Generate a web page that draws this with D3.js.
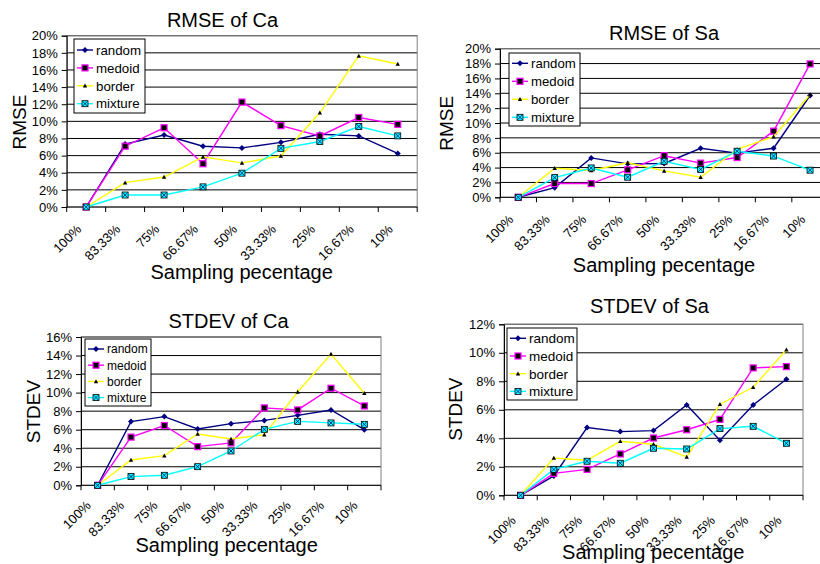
<!DOCTYPE html>
<html>
<head>
<meta charset="utf-8">
<script src="https://cdn.jsdelivr.net/npm/d3@7/dist/d3.min.js"></script>
<style>
  body { margin: 0; background: #fff; }
  svg { display: block; font-family: "Liberation Sans", Arial, sans-serif; }
</style>
</head>
<body>
<svg id="chart" width="820" height="564"></svg>
<script>
// categories on the x axis
var categories = ['100%', '83.33%', '75%', '66.67%', '50%', '33.33%', '25%', '16.67%', '10%'];
var seriesNames = ['random', 'medoid', 'border', 'mixture'];

// RMSE of Ca (%)
var rmseCaRandom  = [0, 7.35, 8.4, 7.1, 6.9, 7.55, 8.5, 8.3, 6.25];
var rmseCaMedoid  = [0, 7.1, 9.25, 5.05, 12.25, 9.5, 8.3, 10.45, 9.65];
var rmseCaBorder  = [0, 2.85, 3.5, 5.85, 5.15, 5.95, 11.0, 17.65, 16.7];
var rmseCaMixture = [0, 1.4, 1.4, 2.35, 3.95, 6.85, 7.65, 9.4, 8.3];

// RMSE of Sa (%)
var rmseSaRandom  = [0, 1.3, 5.3, 4.5, 4.55, 6.6, 5.95, 6.6, 13.7];
var rmseSaMedoid  = [0, 1.85, 1.85, 3.7, 5.6, 4.6, 5.35, 8.9, 17.95];
var rmseSaBorder  = [0, 3.9, 3.6, 4.65, 3.55, 2.7, 6.45, 8.15, 13.8];
var rmseSaMixture = [0, 2.65, 3.95, 2.7, 4.85, 3.75, 6.2, 5.55, 3.65];

// STDEV of Ca (%)
var stdCaRandom  = [0, 6.87, 7.41, 6.08, 6.65, 7.0, 7.55, 8.13, 6.0];
var stdCaMedoid  = [0, 5.2, 6.45, 4.17, 4.57, 8.35, 8.13, 10.47, 8.56];
var stdCaBorder  = [0, 2.73, 3.2, 5.54, 5.0, 5.47, 10.07, 14.17, 9.93];
var stdCaMixture = [0, 0.94, 1.08, 2.01, 3.7, 6.04, 6.9, 6.73, 6.58];

// STDEV of Sa (%)
var stdSaRandom  = [0, 1.36, 4.75, 4.47, 4.54, 6.34, 3.86, 6.34, 8.14];
var stdSaMedoid  = [0, 1.54, 1.82, 2.9, 4.02, 4.6, 5.33, 8.94, 9.03];
var stdSaBorder  = [0, 2.62, 2.46, 3.79, 3.58, 2.69, 6.39, 7.58, 10.22];
var stdSaMixture = [0, 1.82, 2.39, 2.25, 3.3, 3.25, 4.68, 4.84, 3.65];

var colors = { random: '#000080', medoid: '#ff00ff', border: '#ffff00', mixture: '#00ffff' };

var svg = d3.select('#chart');

// draws one marker shape at (0,0) into a group
function drawMarker(g, name) {
    if (name === 'random') {
        g.append('path').attr('d', 'M0,-3L3,0L0,3L-3,0Z').attr('fill', '#000080');
    } else if (name === 'medoid') {
        g.append('rect').attr('x', -3).attr('y', -3).attr('width', 6).attr('height', 6)
            .attr('fill', '#000').attr('stroke', '#ff00ff').attr('stroke-width', 1.2);
    } else if (name === 'border') {
        g.append('path').attr('d', 'M0,-2.2L2.2,1.8L-2.2,1.8Z').attr('fill', '#000');
    } else {
        g.append('rect').attr('x', -3).attr('y', -3).attr('width', 6).attr('height', 6)
            .attr('fill', '#00ffff').attr('stroke', '#000').attr('stroke-width', 0.8);
        g.append('path').attr('d', 'M-2.5,-2.5L2.5,2.5M2.5,-2.5L-2.5,2.5')
            .attr('stroke', '#000080').attr('stroke-width', 0.8);
    }
}

function drawChart(c) {
    var x = d3.scaleBand().domain(categories).range([c.left, c.right]);
    var y = d3.scaleLinear().domain([0, c.yMax]).range([c.bottom, c.top]);
    var g = svg.append('g');

    // gridlines
    var ticks = d3.range(0, c.yMax + 0.001, 2);
    g.selectAll('.grid').data(ticks.slice(1)).enter().append('line')
        .attr('x1', c.left).attr('x2', c.right)
        .attr('y1', function(d) { return y(d); }).attr('y2', function(d) { return y(d); })
        .attr('stroke', '#000').attr('stroke-width', 1);

    // plot border
    g.append('rect').attr('x', c.left).attr('y', y(c.yMax))
        .attr('width', c.right - c.left).attr('height', c.bottom - y(c.yMax))
        .attr('fill', 'none').attr('stroke', '#808080').attr('stroke-width', 1);

    // y axis
    var yAxis = d3.axisLeft(y).tickValues(ticks).tickSize(5).tickPadding(4)
        .tickFormat(function(d) { return d + '%'; });
    var ya = g.append('g').attr('transform', 'translate(' + c.left + ',0)').call(yAxis);
    ya.selectAll('text').attr('font-size', c.tickFont).attr('fill', '#000')
        .style('font-family', '"Liberation Sans", Arial, sans-serif');
    ya.selectAll('line, path').attr('stroke', '#000');

    // x axis: tick marks on category boundaries
    g.append('line').attr('x1', c.left).attr('x2', c.right)
        .attr('y1', c.bottom).attr('y2', c.bottom).attr('stroke', '#000');
    var bounds = categories.map(function(d) { return x(d); }).concat([c.right]);
    g.selectAll('.xt').data(bounds).enter().append('line')
        .attr('x1', function(d) { return d; }).attr('x2', function(d) { return d; })
        .attr('y1', c.bottom).attr('y2', c.bottom + 5).attr('stroke', '#000');
    g.selectAll('.xl').data(categories).enter().append('text')
        .attr('transform', function(d) {
            return 'translate(' + (x(d) + x.bandwidth() / 2 + c.labelDx) + ',' + (c.bottom + c.labelDy) + ') rotate(-45)';
        })
        .attr('text-anchor', 'end').attr('font-size', c.tickFont)
        .text(function(d) { return d; });

    // series lines and markers
    c.series.forEach(function(vals, i) {
        var name = seriesNames[i];
        var line = d3.line()
            .x(function(d, j) { return x(categories[j]) + x.bandwidth() / 2; })
            .y(function(d) { return y(d); });
        g.append('path').datum(vals).attr('d', line)
            .attr('fill', 'none').attr('stroke', colors[name]).attr('stroke-width', 1.4);
        vals.forEach(function(v, j) {
            var m = g.append('g').attr('transform',
                'translate(' + (x(categories[j]) + x.bandwidth() / 2) + ',' + y(v) + ')');
            drawMarker(m, name);
        });
    });

    // titles
    g.append('text').attr('x', c.titleX).attr('y', c.titleY).attr('text-anchor', 'middle')
        .attr('font-size', 20).text(c.title);
    g.append('text').attr('x', c.xTitleX).attr('y', c.xTitleY).attr('text-anchor', 'middle')
        .attr('font-size', 20).text('Sampling pecentage');
    g.append('text').attr('transform', 'translate(' + c.yTitleX + ',' + c.yTitleY + ') rotate(-90)')
        .attr('text-anchor', 'middle').attr('font-size', 19).text(c.yTitle);

    // legend
    var lg = g.append('g').attr('transform', 'translate(' + c.legX + ',' + c.legY + ')');
    lg.append('rect').attr('width', c.legW).attr('height', c.legH)
        .attr('fill', '#fff').attr('stroke', '#000').attr('stroke-width', 1);
    seriesNames.forEach(function(name, i) {
        var yy = c.legFirst + i * c.legStep;
        lg.append('line').attr('x1', 3).attr('x2', 19).attr('y1', yy).attr('y2', yy)
            .attr('stroke', colors[name]).attr('stroke-width', 1.4);
        drawMarker(lg.append('g').attr('transform', 'translate(11,' + yy + ')'), name);
        lg.append('text').attr('x', 22).attr('y', yy + c.legFont * 0.36)
            .attr('font-size', c.legFont).text(name);
    });
}

drawChart({
    title: 'RMSE of Ca', yTitle: 'RMSE', yMax: 20,
    series: [rmseCaRandom, rmseCaMedoid, rmseCaBorder, rmseCaMixture],
    left: 66.7, right: 417.2, top: 35.7, bottom: 207, tickFont: 13, labelDx: -4, labelDy: 23,
    titleX: 222.5, titleY: 27.3, xTitleX: 241.7, xTitleY: 279, yTitleX: 26, yTitleY: 122,
    legX: 74, legY: 39, legW: 71, legH: 74, legFirst: 11, legStep: 17.9, legFont: 13.3
});
drawChart({
    title: 'RMSE of Sa', yTitle: 'RMSE', yMax: 20,
    series: [rmseSaRandom, rmseSaMedoid, rmseSaBorder, rmseSaMixture],
    left: 500, right: 828.3, top: 48.7, bottom: 197.3, tickFont: 13, labelDx: -4, labelDy: 23,
    titleX: 664, titleY: 40, xTitleX: 664, xTitleY: 271.7, yTitleX: 453, yTitleY: 123.3,
    legX: 509, legY: 53, legW: 71, legH: 73, legFirst: 10.3, legStep: 18, legFont: 13.2
});
drawChart({
    title: 'STDEV of Ca', yTitle: 'STDEV', yMax: 16,
    series: [stdCaRandom, stdCaMedoid, stdCaBorder, stdCaMixture],
    left: 81, right: 381, top: 337, bottom: 485.3, tickFont: 13, labelDx: -6, labelDy: 21,
    titleX: 228.5, titleY: 327.7, xTitleX: 226.7, xTitleY: 551.7, yTitleX: 40, yTitleY: 411.5,
    legX: 85, legY: 339, legW: 66, legH: 67, legFirst: 10, legStep: 16.2, legFont: 12
});
drawChart({
    title: 'STDEV of Sa', yTitle: 'STDEV', yMax: 12,
    series: [stdSaRandom, stdSaMedoid, stdSaBorder, stdSaMixture],
    left: 504, right: 803, top: 324.3, bottom: 495.3, tickFont: 13, labelDx: -4, labelDy: 26,
    titleX: 649.5, titleY: 313.3, xTitleX: 653.3, xTitleY: 559.3, yTitleX: 461.7, yTitleY: 409.2,
    legX: 507, legY: 328, legW: 70, legH: 72, legFirst: 10.3, legStep: 17.7, legFont: 13.5
});
</script>
</body>
</html>
